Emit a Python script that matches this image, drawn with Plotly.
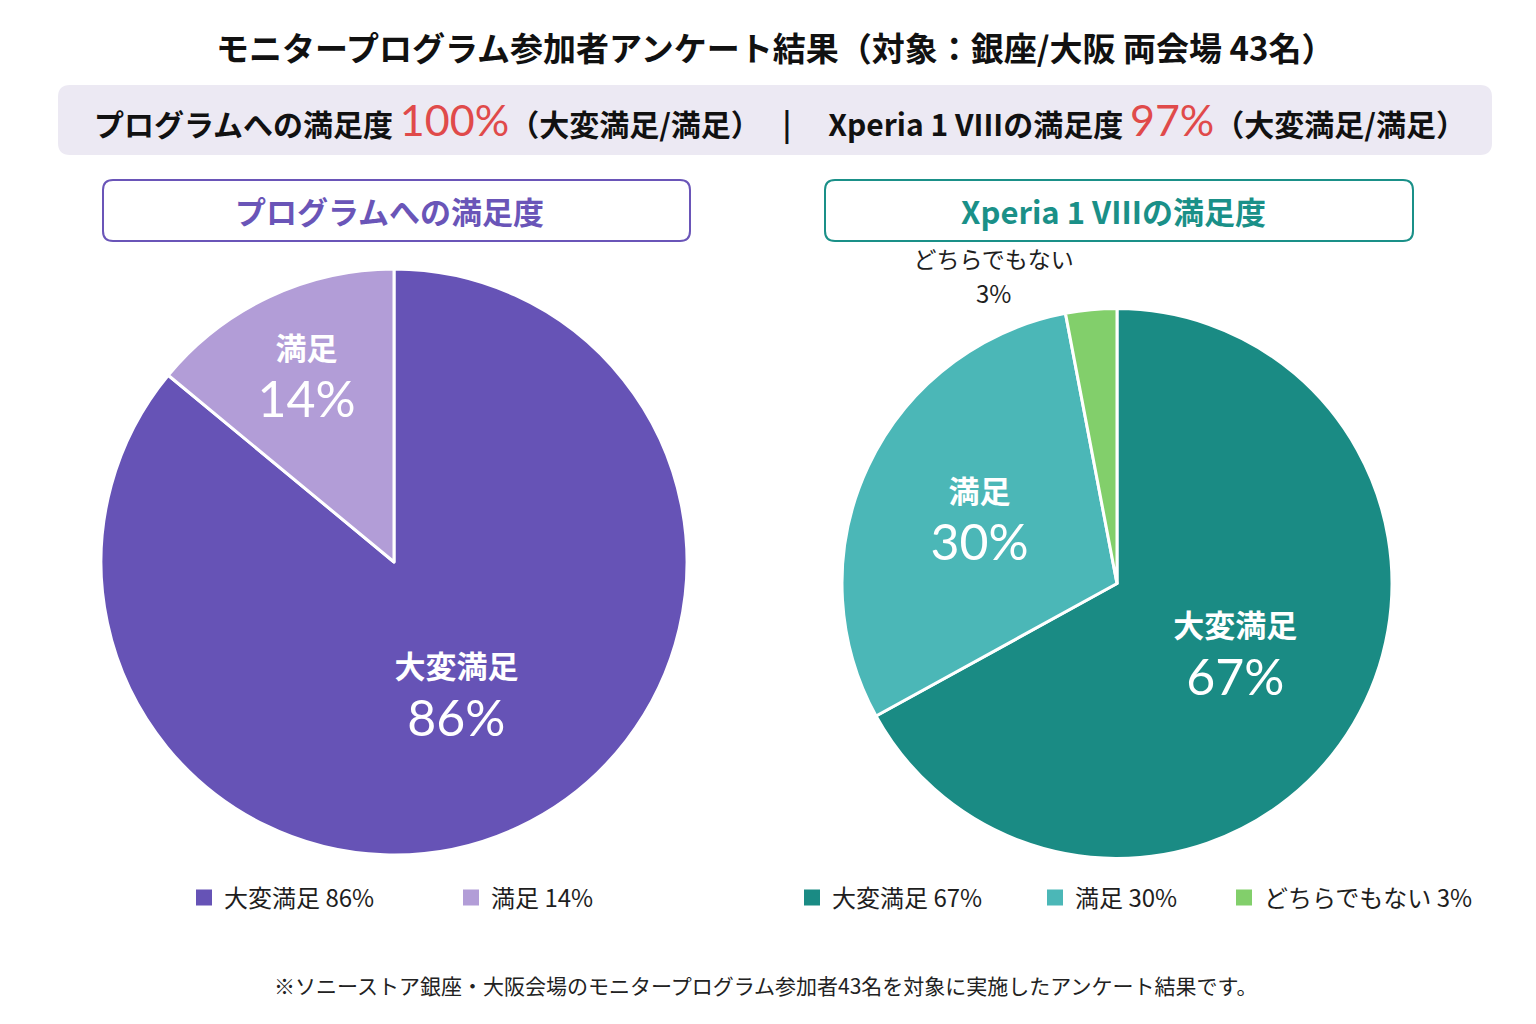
import plotly.graph_objects as go

W, H = 1536, 1024
FONT = "Noto Sans CJK JP, Noto Sans, sans-serif"

# ---- data ----
title_text = "モニタープログラム参加者アンケート結果（対象：銀座/大阪 両会場 43名）"
prog_categories = ["大変満足", "満足"]
prog_values = [86, 14]
xperia_categories = ["大変満足", "満足", "どちらでもない"]
xperia_values = [67, 30, 3]
prog_total = 100
xperia_total = 97
prog_title = "プログラムへの満足度"
xperia_title = "Xperia 1 VIIIの満足度"
footnote = "※ソニーストア銀座・大阪会場のモニタープログラム参加者43名を対象に実施したアンケート結果です。"

prog_colors = ["#6653B6", "#B29DD7"]
xperia_colors = ["#1A8B84", "#4BB7B7", "#82CF6B"]
PURPLE = "#6A55B8"
TEAL = "#1A9088"
RED = "#E04A4A"
DARK = "#1E1E1E"


def px(x):
    return x / W


def py(y):
    return 1 - y / H


def rounded_rect(x0, y0, x1, y1, r):
    def P(x, y):
        return f"{px(x):.5f},{py(y):.5f}"
    return (f"M {P(x0 + r, y0)} L {P(x1 - r, y0)} Q {P(x1, y0)} {P(x1, y0 + r)} "
            f"L {P(x1, y1 - r)} Q {P(x1, y1)} {P(x1 - r, y1)} "
            f"L {P(x0 + r, y1)} Q {P(x0, y1)} {P(x0, y1 - r)} "
            f"L {P(x0, y0 + r)} Q {P(x0, y0)} {P(x0 + r, y0)} Z")


def inside_text(cats, vals, big):
    out = []
    for c, v in zip(cats, vals):
        if big(v):
            out.append(f"<b><span style='font-size:31px'>{c}</span></b><br>"
                       f"<span style='font-size:50px;font-family:Lato'>{v}%</span>")
        else:
            out.append(f"<span style='font-size:23px'>{c}</span><br>"
                       f"<span style='font-size:24px'>{v}%</span>")
    return out


fig = go.Figure()

fig.add_trace(go.Pie(
    labels=prog_categories,
    values=prog_values,
    text=inside_text(prog_categories, prog_values, lambda v: True),
    texttemplate="%{text}",
    textposition="inside",
    insidetextorientation="horizontal",
    insidetextfont=dict(color="white", family=FONT, size=44),
    marker=dict(colors=prog_colors, line=dict(color="white", width=3)),
    sort=False, direction="clockwise", rotation=0,
    domain=dict(x=[px(101), px(687)], y=[py(855), py(269)]),
    hoverinfo="label+percent",
    showlegend=False,
))

fig.add_trace(go.Pie(
    labels=xperia_categories,
    values=xperia_values,
    text=inside_text(xperia_categories, xperia_values, lambda v: v >= 10),
    texttemplate="%{text}",
    textposition=["inside" if v >= 10 else "outside" for v in xperia_values],
    insidetextorientation="horizontal",
    insidetextfont=dict(color="white", family=FONT, size=44),
    outsidetextfont=dict(color=DARK, family=FONT, size=27),
    marker=dict(colors=xperia_colors, line=dict(color="white", width=3)),
    sort=False, direction="clockwise", rotation=0,
    domain=dict(x=[px(842), px(1392)], y=[py(859), py(308)]),
    hoverinfo="label+percent",
    showlegend=False,
))

# legend entries (legend-only markers, names built from the data)
for c, v, col in zip(prog_categories, prog_values, prog_colors):
    fig.add_trace(go.Scatter(x=[None], y=[None], mode="markers", name=f"{c} {v}%",
                             marker=dict(symbol="square", size=30, color=col),
                             legend="legend", hoverinfo="skip"))
for i, (c, v, col) in enumerate(zip(xperia_categories, xperia_values, xperia_colors)):
    fig.add_trace(go.Scatter(x=[None], y=[None], mode="markers", name=f"{c} {v}%",
                             marker=dict(symbol="square", size=30, color=col),
                             legend="legend2" if i < 2 else "legend3", hoverinfo="skip"))

shapes = [
    dict(type="path", xref="paper", yref="paper", path=rounded_rect(58, 85, 1492, 155, 12),
         fillcolor="#ECE9F3", line=dict(width=0), layer="below"),
    dict(type="path", xref="paper", yref="paper", path=rounded_rect(103, 180, 690, 241, 10),
         fillcolor="white", line=dict(color=PURPLE, width=2), layer="below"),
    dict(type="path", xref="paper", yref="paper", path=rounded_rect(825, 180, 1413, 241, 10),
         fillcolor="white", line=dict(color=TEAL, width=2), layer="below"),
]

summary = (
    f"<b>{prog_title}</b> <span style='font-size:43px;color:{RED};font-family:Lato'>{prog_total}%</span>"
    f"<b>（大変満足/満足）</b>　 <b>|</b> 　<b>{xperia_title}</b> "
    f"<span style='font-size:43px;color:{RED};font-family:Lato'>{xperia_total}%</span><b>（大変満足/満足）</b>"
)

annotations = [
    dict(text=f"<b>{title_text}</b>", x=px(775), y=py(47), xref="paper", yref="paper",
         showarrow=False, font=dict(size=33, color="#111", family=FONT), xanchor="center", yanchor="middle"),
    dict(text=summary, x=px(780), y=py(119), xref="paper", yref="paper",
         showarrow=False, font=dict(size=30, color="#111", family=FONT), xanchor="center", yanchor="middle"),
    dict(text=f"<b>{prog_title}</b>", x=px(389), y=py(210), xref="paper", yref="paper",
         showarrow=False, font=dict(size=31, color=PURPLE, family=FONT), xanchor="center", yanchor="middle"),
    dict(text=f"<b>{xperia_title}</b>", x=px(1113), y=py(210), xref="paper", yref="paper",
         showarrow=False, font=dict(size=31, color=TEAL, family=FONT), xanchor="center", yanchor="middle"),
    dict(text=footnote, x=px(765), y=py(985), xref="paper", yref="paper",
         showarrow=False, font=dict(size=21, color="#222", family=FONT), xanchor="center", yanchor="middle"),
]

legend_common = dict(orientation="h", yanchor="middle", xanchor="left",
                     font=dict(size=24, color=DARK, family=FONT), bgcolor="rgba(0,0,0,0)",
                     traceorder="normal")

fig.update_layout(
    width=W, height=H, autosize=False,
    margin=dict(l=0, r=0, t=0, b=0),
    paper_bgcolor="white", plot_bgcolor="white",
    font=dict(family=FONT),
    xaxis=dict(visible=False), yaxis=dict(visible=False),
    shapes=shapes, annotations=annotations,
    showlegend=True,
    legend=dict(x=px(184), y=py(898), entrywidth=222, entrywidthmode="pixels", **legend_common),
    legend2=dict(x=px(792), y=py(898), entrywidth=198, entrywidthmode="pixels", **legend_common),
    legend3=dict(x=px(1224), y=py(898), **legend_common),
)

fig.write_html("out.html")
